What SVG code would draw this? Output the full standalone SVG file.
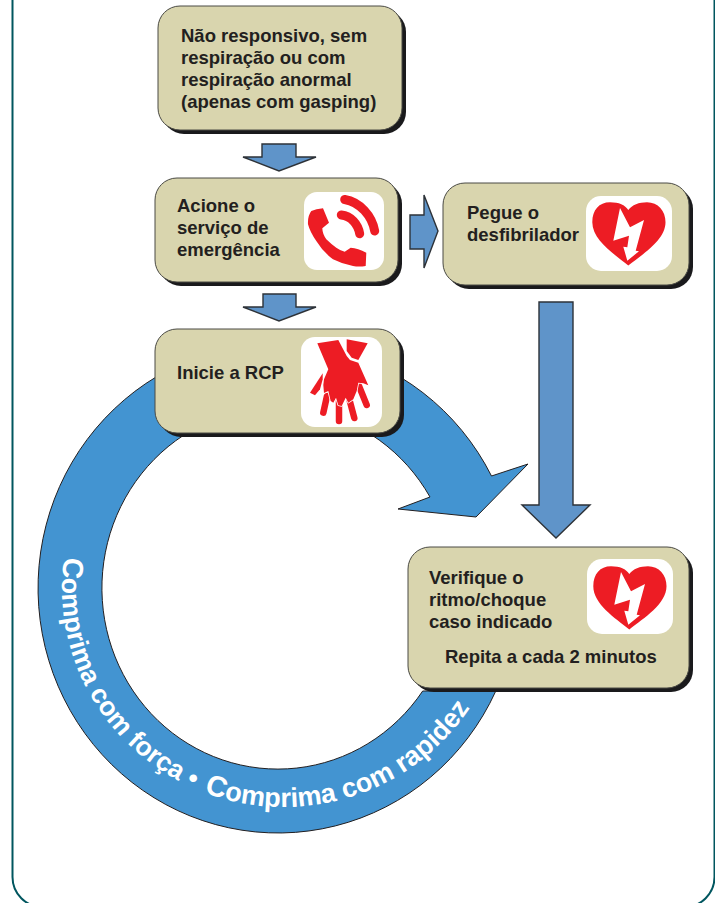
<svg xmlns="http://www.w3.org/2000/svg" xmlns:xlink="http://www.w3.org/1999/xlink" width="715" height="903" viewBox="0 0 715 903">
<style>
.box{fill:#d9d5ae;stroke:#4a4a44;stroke-width:1}
.shadow{fill:#1a1a1c}
.t{font-family:"Liberation Sans",Arial,sans-serif;font-weight:700;font-size:18.5px;fill:#231f20}
.arrow{fill:#5f94c9;stroke:#2d3238;stroke-width:1.4;stroke-linejoin:miter}
.ring{fill:#4394d1;stroke:#231f20;stroke-width:1}
.rt{font-family:"Liberation Sans",Arial,sans-serif;font-weight:700;font-size:26.6px;fill:#fff}
.cap{font-size:29px}
.red{fill:#ed1c24}
.wh{fill:#fff}
.arc{fill:none;stroke:#ed1c24;stroke-width:9;stroke-linecap:round}
.fg{fill:none;stroke:#ed1c24;stroke-width:6.5;stroke-linecap:round}
.palm{fill:#ed1c24;stroke:#fff;stroke-width:1.6;stroke-linejoin:round;paint-order:stroke}
</style>
<defs>
<path id="ringArc1" d="M64.2 557 A222 219 0 0 0 204 792.3"/>
<path id="ringArc2" d="M204 792.3 A222 219 0 0 0 492.6 662.9"/>
<g id="heart">
<path class="red" d="M629.3 629.5 C615 618 593.3 604 593.3 586.3 C593.3 574 600 566.3 611 566.3 C620 566.3 626 569 629.3 574 C633 569 640 566.3 648 566.3 C659 566.3 666.5 575 666.5 586.3 C666.5 604 644 618 629.3 629.5Z"/>
<path class="wh" d="M621 572 L631 591.3 L645 584 L636.7 614.7 L640 615.3 L628.3 624.7 L624.3 610.7 L628.3 611.3 L630 599.7 L614.3 604.7Z"/>
</g>
</defs>
<rect id="frame" x="12.5" y="-60" width="702" height="967" rx="30" ry="30" fill="#fff" stroke="#00565f" stroke-width="2"/>
<g id="connectors">
<path id="cpr-ring" class="ring" d="M491.5 476 A240 245 0 1 0 495.8 691 L422.7 691 A176 181 0 1 1 430 497 L398 509 L476 517 L528 464Z"/>
<text class="rt"><textPath xlink:href="#ringArc1" href="#ringArc1"><tspan class="cap">C</tspan>omprima com força •</textPath></text>
<text class="rt" style="font-size:27.1px"><textPath xlink:href="#ringArc2" href="#ringArc2"><tspan class="cap">C</tspan>omprima com rapidez</textPath></text>
<path class="arrow" d="M262 144H296V157H316L279 171L243 157H262Z"/>
<path class="arrow" d="M263 294H296V307H316L279 321L243 307H263Z"/>
<path class="arrow" d="M410 215H424V195L438 231L424 268V249H410Z"/>
<path class="arrow" d="M539 302H573V505H590L556 538L522 505H539Z"/>
</g>
<g id="node-unresponsive">
<rect class="shadow" x="162" y="10" width="244" height="124" rx="22"/>
<rect class="box" x="158" y="6" width="244" height="124" rx="22"/>
<text class="t"><tspan x="181" y="42">Não responsivo, sem</tspan><tspan x="181" y="64">respiração ou com</tspan><tspan x="181" y="86">respiração anormal</tspan><tspan x="181" y="108">(apenas com gasping)</tspan></text>
</g>
<g id="node-call">
<rect class="shadow" x="159" y="182" width="243" height="104" rx="22"/>
<rect class="box" x="155" y="178" width="243" height="104" rx="22"/>
<text class="t"><tspan x="177" y="212">Acione o</tspan><tspan x="177" y="234">serviço de</tspan><tspan x="177" y="256">emergência</tspan></text>
<rect class="wh" x="304" y="192" width="80" height="78" rx="13"/>
<path class="red" d="M311.3 211 Q316 209 323 208.3 L329 222.7 L322.3 228.3 Q322.5 234 326.3 239.3 Q331 244 336.3 247.7 Q341 251 344.7 251.7 L350.7 247.7 Q358 248 366.3 252.7 L365.7 266 Q359 267 353 266 Q342 264 333 259.3 Q323 252 316.3 241 Q310 232 308 224.3 Q307.5 216 311.3 211Z"/>
<path class="arc" d="M344.7 199.5 C360 202 372 216 374.7 231"/>
<path class="arc" d="M341.3 215 C351 216 358 224 359.7 233.7"/>
</g>
<g id="node-aed">
<rect class="shadow" x="447" y="187" width="246" height="102" rx="22"/>
<rect class="box" x="443" y="183" width="246" height="102" rx="22"/>
<text class="t"><tspan x="467" y="219">Pegue o</tspan><tspan x="467" y="241">desfibrilador</tspan></text>
<rect class="wh" x="586" y="196" width="86" height="75" rx="15"/>
<use href="#heart" xlink:href="#heart" x="-1" y="-364"/>
</g>
<g id="node-cpr">
<rect class="shadow" x="159" y="333" width="245" height="104" rx="22"/>
<rect class="box" x="155" y="329" width="245" height="104" rx="22"/>
<text class="t" x="177" y="379">Inicie a RCP</text>
<rect class="wh" x="301" y="337" width="81" height="90" rx="14"/>
<path class="red" d="M346.7 339.3 L367.7 343.3 L358.3 360 L351.7 357.7 L346.7 351Z"/>
<path class="red" d="M322.7 373.3 L310 392.7 L315 395.3 L320 389.3 L322.7 379.3Z"/>
<path class="fg" d="M327 396 L323.3 412.7"/>
<path class="fg" d="M339 400 L339 421"/>
<path class="fg" d="M349 398 L354.3 418"/>
<path class="fg" d="M359 386 L366.7 405"/>
<path class="palm" d="M317.3 343.3 L338.3 340 L346.7 356 L350 360 L358.3 362.7 L368.3 385.3 L363.3 383.3 L358.3 382.7 L356.7 391 L353.3 399.3 L348.3 402.7 L345.7 397.7 L341.7 406 L338.3 405.3 L336 397.7 L333.3 402.7 L330.7 401 L328.3 391 L324 393 L323.3 385 L324 379.3 L328.3 369.3Z"/>
</g>
<g id="node-rhythm">
<rect class="shadow" x="412" y="551" width="281" height="141" rx="22"/>
<rect class="box" x="408" y="547" width="281" height="141" rx="22"/>
<text class="t"><tspan x="429" y="584">Verifique o</tspan><tspan x="429" y="606">ritmo/choque</tspan><tspan x="429" y="628">caso indicado</tspan><tspan x="445" y="663">Repita a cada 2 minutos</tspan></text>
<rect class="wh" x="587" y="559" width="86" height="75" rx="15"/>
<use href="#heart" xlink:href="#heart"/>
</g>
</svg>
